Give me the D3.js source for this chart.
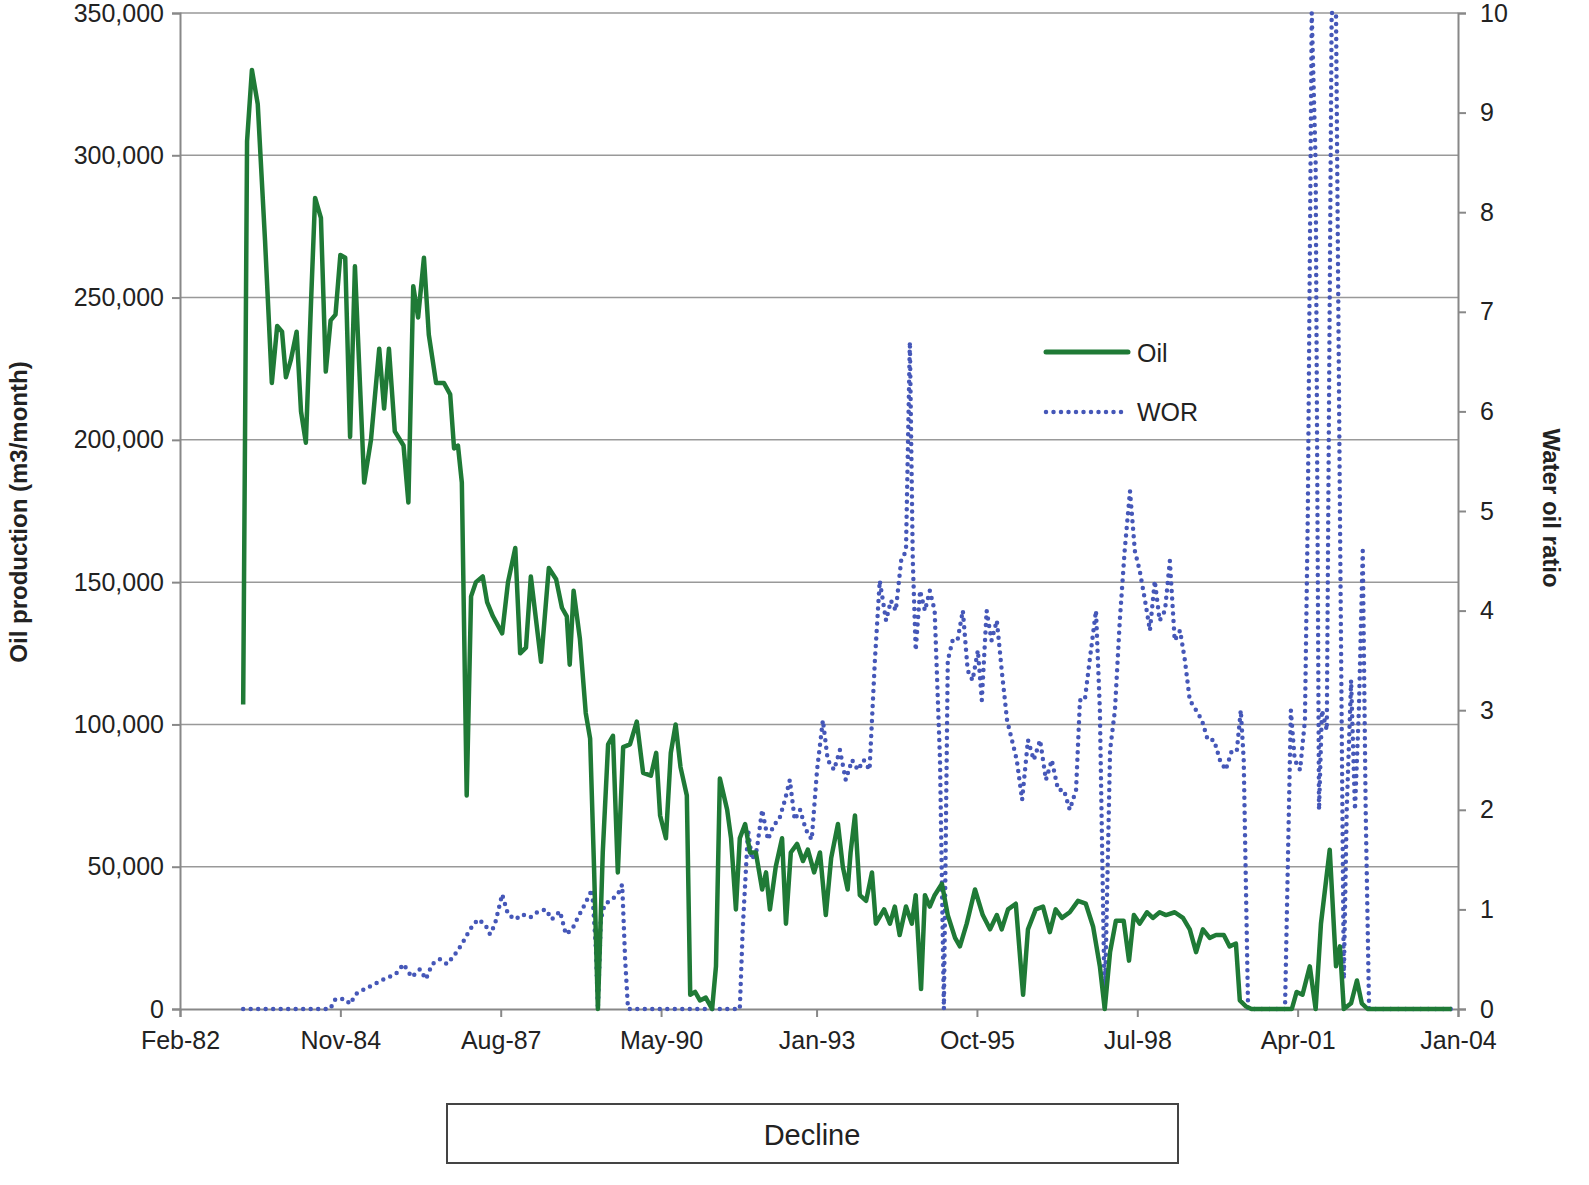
<!DOCTYPE html>
<html lang="en">
<head>
    <script src="https://d3js.org/d3.v7.min.js"></script>
    <style>
        body { margin: 0; background: #fff; font-family: "Liberation Sans", Arial, sans-serif; }
    </style>
</head>
<body>
<script>
    // month offsets counted from Feb-82
    const xTickMonths = [0, 33, 66, 99, 131, 164, 197, 230, 263];
    const xTickLabels = ["Feb-82", "Nov-84", "Aug-87", "May-90", "Jan-93", "Oct-95", "Jul-98", "Apr-01", "Jan-04"];

    // oil production, [month, thousand m3/month]
    const oilData = [[13,107],[13.8,305],[14.8,330],[16,318],[17.5,270],[18.9,220],[20,240],[21,238],[21.8,222],[22.8,228],[24,238],[24.9,210],[25.9,199],[27,250],[27.8,285],[29,278],[30,224],[31,242],[32,244],[33,265],[34,264],[35,201],[36,261],[37.9,185],[39.3,200],[41,232],[42,211],[43,232],[44.2,203],[46,198],[47,178],[48,254],[49,243],[50.2,264],[51.2,237],[52.7,220],[54.3,220],[55.6,216],[56.4,197],[57.2,198],[58,185],[59,75],[59.9,145],[60.9,150],[62.3,152],[63.2,143],[64.4,138],[66.3,132],[67.5,150],[69,162],[70,125],[71.2,127],[72.2,152],[74.3,122],[75.9,155],[77.4,151],[78.6,141],[79.6,138],[80.2,121],[81,147],[82.3,130],[83.5,104],[84.4,95],[85.2,50],[86,0],[87,55],[88.1,93],[89.1,96],[90.1,48],[91.2,92],[92.6,93],[94,101],[95.3,83],[96.9,82],[98,90],[98.8,68],[100,60],[101,90],[102,100],[103,85],[104.3,75],[105,5],[106,6],[107,3],[108.2,4],[109.5,0],[110.3,15],[111.1,81],[112.6,70],[113.4,60],[114.4,35],[115.2,60],[116.3,65],[117.3,55],[118.5,55],[119.8,42],[120.6,48],[121.4,35],[122.6,50],[123.9,60],[124.7,30],[125.7,55],[127,58],[128.2,52],[129.2,56],[130.5,48],[131.7,55],[132.9,33],[134,53],[135.4,65],[136.4,50],[137.4,42],[138,55],[138.9,68],[139.9,40],[141.2,38],[142.4,48],[143.2,30],[144.9,35],[146.1,30],[147.1,36],[148.1,26],[149.4,36],[150.6,30],[151.4,40],[152.5,7],[153.3,40],[154.3,36],[155.3,40],[156.8,44],[158,33],[159.5,25],[160.5,22],[161.9,30],[163.6,42],[165.2,33],[166.7,28],[168.1,33],[169.1,28],[170.4,35],[172,37],[173.5,5],[174.5,28],[176.1,35],[177.6,36],[179,27],[180.2,35],[181.5,32],[183.1,34],[184.8,38],[186.4,37],[187.9,29],[189.3,15],[190.3,0],[191.4,20],[192.6,31],[194.2,31],[195.3,17],[196.3,33],[197.5,30],[199,34],[200.2,32],[201.6,34],[202.9,33],[204.7,34],[206.4,32],[207.8,28],[209.1,20],[210.5,28],[211.9,25],[213.2,26],[214.8,26],[216,22],[217.3,23],[218.1,3],[219.3,1],[220.5,0],[228.8,0],[229.8,6],[231,5],[232.5,15],[233.7,0],[234.8,30],[236.6,56],[237.9,15],[238.7,22],[239.5,0],[241,2],[242.2,10],[243.2,2],[244.4,0],[261.7,0]];

    // water oil ratio, [month, ratio]
    const worData = [[13,0],[30.9,0],[32,0.1],[34,0.1],[35,0.05],[36.2,0.15],[38,0.2],[40,0.25],[42,0.3],[44.4,0.35],[46,0.45],[47.7,0.32],[49.4,0.4],[50.6,0.3],[51.9,0.45],[53.5,0.5],[55,0.45],[56.6,0.55],[58,0.65],[59.7,0.8],[61.3,0.9],[62.8,0.85],[63.8,0.75],[64.8,0.85],[66.3,1.15],[67.5,0.95],[69,0.9],[70.4,0.95],[72.1,0.92],[73.7,0.98],[75.3,1.0],[76.5,0.9],[78.2,0.98],[79.4,0.75],[80.7,0.8],[81.9,0.92],[83.3,1.05],[84.8,1.2],[85.6,0.6],[86,0],[86.6,0.9],[87.4,1.05],[88.9,1.1],[90.1,1.15],[91,1.25],[91.6,0.5],[92.2,0],[115.2,0],[115.8,0.8],[116.9,1.8],[117.7,1.5],[118.7,1.6],[119.8,2.0],[121,1.7],[122.2,1.85],[123.3,1.9],[124.5,2.1],[125.5,2.3],[126.5,1.9],[127.6,2.0],[128.8,1.8],[130,1.7],[131.1,2.4],[132.3,2.9],[133.3,2.5],[134.6,2.4],[135.8,2.6],[137,2.3],[138.3,2.5],[139.5,2.4],[140.7,2.5],[141.9,2.4],[143,3.5],[144,4.3],[145.3,3.9],[146.3,4.1],[147.3,4.0],[148.4,4.5],[149.4,4.6],[150.2,6.7],[150.8,4.5],[151.4,3.6],[152.3,4.2],[153.3,4.0],[154.3,4.2],[155.3,4.0],[156.4,2.5],[157.2,0],[158,3.5],[159,3.7],[160,3.7],[161.1,4.0],[162.1,3.4],[163.1,3.3],[164.2,3.6],[165,3.1],[166,4.0],[167,3.7],[168.1,3.9],[169.1,3.4],[170.2,2.9],[171.2,2.7],[172.2,2.5],[173.3,2.1],[174.5,2.7],[175.7,2.5],[177,2.7],[178.2,2.3],[179.4,2.5],[180.7,2.2],[181.9,2.2],[183.1,2.0],[184.4,2.2],[185.2,3.1],[186.2,3.1],[187.2,3.5],[188.5,4.0],[189.3,3.0],[190.3,0],[191.4,2.6],[192.4,3.0],[193.4,3.9],[194.4,4.6],[195.5,5.2],[196.5,4.6],[197.5,4.4],[198.6,4.1],[199.6,3.8],[200.6,4.3],[201.6,3.9],[202.7,4.0],[203.7,4.5],[204.7,3.7],[205.8,3.8],[206.8,3.5],[207.8,3.1],[209.1,3.0],[210.3,2.9],[211.5,2.7],[212.8,2.7],[214,2.5],[215.2,2.4],[216.5,2.6],[217.5,2.6],[218.3,3.0],[218.9,2.5],[219.8,0],[227.4,0],[228,1.5],[228.6,3.0],[229.4,2.5],[230.5,2.4],[231.5,2.9],[232.1,5],[232.9,10],[233.7,8.5],[234.4,2],[235,3],[236,2.8],[237,10],[237.9,10],[238.7,5],[239.5,0.3],[240.1,2],[241,3.3],[241.8,2.0],[242.6,3.0],[243.4,4.6],[244,2],[244.7,0],[261.7,0]];

    const leftTicks = [0, 50, 100, 150, 200, 250, 300, 350];
    const rightTicks = [0, 1, 2, 3, 4, 5, 6, 7, 8, 9, 10];

    const W = 1589, H = 1185;
    const plotL = 180, plotR = 1458, plotT = 13, plotB = 1009;
    const oilColor = "#1f7a36", worColor = "#4557b8";

    const svg = d3.select("body").append("svg").attr("width", W).attr("height", H);

    const x = d3.scaleLinear().domain([0, 263]).range([plotL, plotR]);
    const y = d3.scaleLinear().domain([0, 350]).range([plotB, plotT]);
    const y2 = d3.scaleLinear().domain([0, 10]).range([plotB, plotT]);

    // grid lines
    svg.append("g").selectAll("line").data(leftTicks.slice(1)).join("line")
        .attr("x1", plotL).attr("x2", plotR)
        .attr("y1", d => y(d)).attr("y2", d => y(d))
        .attr("stroke", "#999").attr("stroke-width", 1.5);

    const fmt = d => d === 0 ? "0" : d3.format(",")(d * 1000);

    const gL = svg.append("g").attr("transform", `translate(${plotL},0)`)
        .call(d3.axisLeft(y).tickValues(leftTicks).tickFormat(fmt).tickSize(8).tickPadding(8));
    const gR = svg.append("g").attr("transform", `translate(${plotR},0)`)
        .call(d3.axisRight(y2).tickValues(rightTicks).tickSize(8).tickPadding(14));
    const gB = svg.append("g").attr("transform", `translate(0,${plotB})`)
        .call(d3.axisBottom(x).tickValues(xTickMonths).tickFormat((d, i) => xTickLabels[i]).tickSize(8).tickPadding(14));

    [gL, gR, gB].forEach(g => {
        g.select(".domain").attr("stroke", "#888").attr("stroke-width", 2);
        g.selectAll(".tick line").attr("stroke", "#888").attr("stroke-width", 2);
        g.selectAll("text").attr("font-size", 25).attr("fill", "#222")
            .attr("font-family", "'Liberation Sans', Arial, sans-serif");
    });

    // WOR dotted line
    svg.append("path").datum(worData)
        .attr("fill", "none").attr("stroke", worColor).attr("stroke-width", 4.5)
        .attr("stroke-linecap", "round").attr("stroke-dasharray", "0 7.5")
        .attr("d", d3.line().x(d => x(d[0])).y(d => y2(d[1])));

    // oil line
    svg.append("path").datum(oilData)
        .attr("fill", "none").attr("stroke", oilColor).attr("stroke-width", 4.5)
        .attr("stroke-linejoin", "round")
        .attr("d", d3.line().x(d => x(d[0])).y(d => y(d[1])));

    // legend
    svg.append("line").attr("x1", 1046).attr("x2", 1128).attr("y1", 352).attr("y2", 352)
        .attr("stroke", oilColor).attr("stroke-width", 5).attr("stroke-linecap", "round");
    svg.append("line").attr("x1", 1046).attr("x2", 1128).attr("y1", 412).attr("y2", 412)
        .attr("stroke", worColor).attr("stroke-width", 4.5).attr("stroke-linecap", "round")
        .attr("stroke-dasharray", "0 7.5");
    svg.append("text").attr("x", 1137).attr("y", 362).attr("font-size", 25).attr("fill", "#222").text("Oil");
    svg.append("text").attr("x", 1137).attr("y", 421).attr("font-size", 25).attr("fill", "#222").text("WOR");

    // axis titles
    svg.append("text").attr("transform", "translate(27,512) rotate(-90)")
        .attr("text-anchor", "middle").attr("font-size", 24).attr("font-weight", "bold").attr("fill", "#222")
        .text("Oil production (m3/month)");
    svg.append("text").attr("transform", "translate(1543,508) rotate(90)")
        .attr("text-anchor", "middle").attr("font-size", 24).attr("font-weight", "bold").attr("fill", "#222")
        .text("Water oil ratio");

    // decline box
    svg.append("rect").attr("x", 447).attr("y", 1104).attr("width", 731).attr("height", 59)
        .attr("fill", "#fff").attr("stroke", "#444").attr("stroke-width", 2);
    svg.append("text").attr("x", 812).attr("y", 1145).attr("text-anchor", "middle")
        .attr("font-size", 29).attr("fill", "#222").text("Decline");
</script>
</body>
</html>
